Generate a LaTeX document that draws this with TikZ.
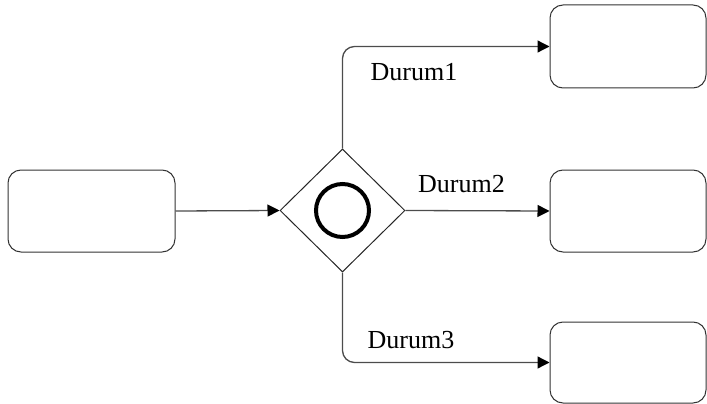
\documentclass[tikz,border=0pt]{standalone}
\usepackage{fontspec}
\setmainfont{Liberation Serif}
\usetikzlibrary{arrows.meta,shapes.geometric}
\begin{document}
\begin{tikzpicture}[x=1pt,y=-1pt,
  task/.style={draw=black!80,line width=1pt,rounded corners=13pt},
  flow/.style={draw=black!70,line width=1.3pt,rounded corners=12pt,
    -{Triangle[length=12pt,width=12pt,color=black]}},
  lbl/.style={font=\fontsize{26}{30}\selectfont,inner sep=0pt}]
\useasboundingbox (0,0) rectangle (707,404);

% activities
\node[task,minimum width=167pt,minimum height=82pt] (src) at (91.5,211) {};
\node[task,minimum width=156pt,minimum height=83pt] (t1) at (628,46.5) {};
\node[task,minimum width=156pt,minimum height=82pt] (t2) at (628,211) {};
\node[task,minimum width=156pt,minimum height=81pt] (t3) at (628,362.5) {};

% inclusive gateway
\node[draw=black!85,line width=1pt,diamond,inner sep=0pt,
  minimum width=125pt,minimum height=123pt] (gw) at (342.5,210.5) {};
\node[draw=black,line width=4pt,circle,inner sep=0pt,minimum size=53pt] (ring) at (gw.center) {};

% sequence flows
\draw[flow] (src.east) -- (gw.west);
\draw[flow] (gw.east) -- (t2.west);
\draw[flow] (gw.north) |- (t1.west);
\draw[flow] (gw.south) |- (t3.west);

% conditions
\node[lbl] (c1) at (414,72) {Durum1};
\node[lbl] (c2) at (461.5,184) {Durum2};
\node[lbl] (c3) at (411,340.5) {Durum3};
\end{tikzpicture}
\end{document}
